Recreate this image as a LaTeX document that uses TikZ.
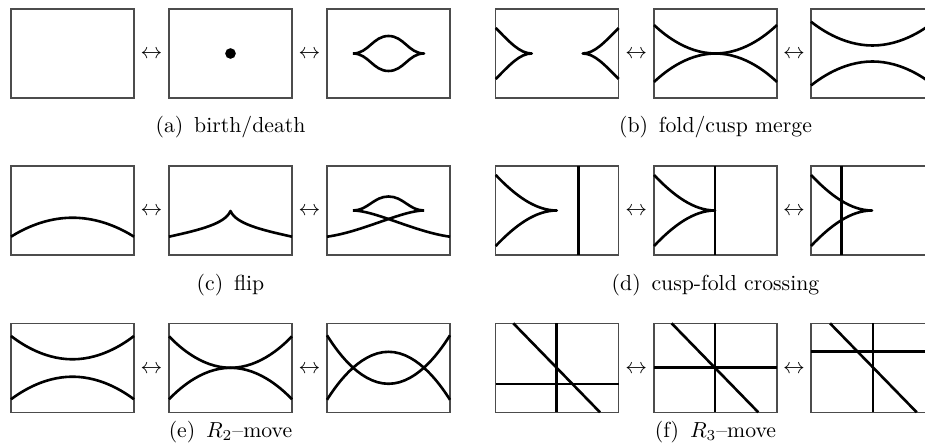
\documentclass[tikz,border=0pt]{standalone}
\usepackage{amsmath}
\usepackage{tikz}
\usetikzlibrary{positioning}

\begin{document}
\begin{tikzpicture}[
  x=0.46pt, y=-0.46pt,
  panel/.style={
    draw=black!70, line width=0.6pt, inner sep=0pt, outer sep=0pt,
    minimum width=56.58pt, minimum height=40.94pt
  },
  crit/.style={line width=1.2pt, line join=round},
  arrowsym/.style={inner sep=0pt, yshift=-0.6pt},
  subcap/.style={inner sep=1pt}
]
\clip (0,0) rectangle (925,448);

% (a) birth/death
\node[panel] (a1) at (72.5,53.5) {};
\node[panel] (a2) at (230.5,53.5) {};
\node[panel] (a3) at (388.5,53.5) {};
\path (a1) -- (a2) node[arrowsym, midway] (a12) {$\leftrightarrow$};
\path (a2) -- (a3) node[arrowsym, midway] (a23) {$\leftrightarrow$};
\fill (a2.center) circle (2.45pt);
\begin{scope}[shift={(a3.north west)}]
  \draw[crit] (26,44.5) to[out=0,in=180] (61.5,27) to[out=0,in=180] (97,44.5)
    to[out=180,in=0] (61.5,62) to[out=180,in=0] (26,44.5);
\end{scope}
\node[subcap, below=7pt of a2] (capa) {(a)\enspace birth/death};

% (b) fold/cusp merge
\node[panel] (b1) at (557.2,53.5) {};
\node[panel] (b2) at (715.5,53.5) {};
\node[panel] (b3) at (872.5,53.5) {};
\path (b1) -- (b2) node[arrowsym, midway] (b12) {$\leftrightarrow$};
\path (b2) -- (b3) node[arrowsym, midway] (b23) {$\leftrightarrow$};
\begin{scope}[shift={(b1.north west)}]
  \draw[crit] (0,19) .. controls (14,33) and (24,44.5) .. (36,44.5)
    .. controls (24,44.5) and (14,56) .. (0,70);
  \draw[crit] (123,19) .. controls (109,33) and (99,44.5) .. (87,44.5)
    .. controls (99,44.5) and (109,56) .. (123,70);
\end{scope}
\begin{scope}[shift={(b2.north west)}]
  \draw[crit] (0,16) parabola bend (61.5,44.5) (123,16);
  \draw[crit] (0,73) parabola bend (61.5,44.5) (123,73);
\end{scope}
\begin{scope}[shift={(b3.north west)}]
  \draw[crit] (0,12.7) parabola bend (61.5,36.5) (123,12.7);
  \draw[crit] (0,76.5) parabola bend (61.5,52.5) (123,76.5);
\end{scope}
\node[subcap, below=7pt of b2] (capb) {(b)\enspace fold/cusp merge};

% (c) flip
\node[panel] (c1) at (72.5,210.5) {};
\node[panel] (c2) at (230.5,210.5) {};
\node[panel] (c3) at (388.5,210.5) {};
\path (c1) -- (c2) node[arrowsym, midway] (c12) {$\leftrightarrow$};
\path (c2) -- (c3) node[arrowsym, midway] (c23) {$\leftrightarrow$};
\begin{scope}[shift={(c1.north west)}]
  \draw[crit] (0,70.7) parabola bend (61.5,51.7) (123,70.7);
\end{scope}
\begin{scope}[shift={(c2.north west)}]
  \draw[crit] (0,70.7) .. controls (30,64) and (56,58) .. (61.5,45)
    .. controls (67,58) and (93,64) .. (123,70.7);
\end{scope}
\begin{scope}[shift={(c3.north west)}]
  \draw[crit] (26,44.5) to[out=0,in=180] (61.5,30.5) to[out=0,in=180] (97,44.5);
  \draw[crit] (0,70.7) .. controls (35,66) and (75,44.5) .. (97,44.5);
  \draw[crit] (123,70.7) .. controls (88,66) and (48,44.5) .. (26,44.5);
\end{scope}
\node[subcap, below=7.8pt of c2] (capc) {(c)\enspace flip};

% (d) cusp-fold crossing
\node[panel] (d1) at (557.2,210.5) {};
\node[panel] (d2) at (715.5,210.5) {};
\node[panel] (d3) at (872.5,210.5) {};
\path (d1) -- (d2) node[arrowsym, midway] (d12) {$\leftrightarrow$};
\path (d2) -- (d3) node[arrowsym, midway] (d23) {$\leftrightarrow$};
\begin{scope}[shift={(d1.north west)}]
  \draw[crit] (0,9) .. controls (20,30) and (40,44.5) .. (61,44.5)
    .. controls (40,44.5) and (20,59) .. (0,80);
  \draw[crit] (82.6,0) -- (82.6,89);
\end{scope}
\begin{scope}[shift={(d2.north west)}]
  \draw[crit] (0,9) .. controls (20,30) and (40,44.5) .. (61,44.5)
    .. controls (40,44.5) and (20,59) .. (0,80);
  \draw[crit] (61,0) -- (61,89);
\end{scope}
\begin{scope}[shift={(d3.north west)}]
  \draw[crit] (0,9) .. controls (20,30) and (40,44.5) .. (61,44.5)
    .. controls (40,44.5) and (20,59) .. (0,80);
  \draw[crit] (30.7,0) -- (30.7,89);
\end{scope}
\node[subcap, below=7.8pt of d2] (capd) {(d)\enspace cusp-fold crossing};

% (e) R2-move
\node[panel] (e1) at (72.5,367.8) {};
\node[panel] (e2) at (230.5,367.8) {};
\node[panel] (e3) at (388.5,367.8) {};
\path (e1) -- (e2) node[arrowsym, midway] (e12) {$\leftrightarrow$};
\path (e2) -- (e3) node[arrowsym, midway] (e23) {$\leftrightarrow$};
\begin{scope}[shift={(e1.north west)}]
  \draw[crit] (0,12.7) parabola bend (61.5,36) (123,12.7);
  \draw[crit] (0,76) parabola bend (61.5,53.4) (123,76);
\end{scope}
\begin{scope}[shift={(e2.north west)}]
  \draw[crit] (0,13) parabola bend (61.5,44.5) (123,13);
  \draw[crit] (0,76) parabola bend (61.5,44.5) (123,76);
\end{scope}
\begin{scope}[shift={(e3.north west)}]
  \draw[crit] (0,12) parabola bend (61.5,60.5) (123,12);
  \draw[crit] (0,76.5) parabola bend (61.5,28.5) (123,76.5);
\end{scope}
\node[subcap, below=2.8pt of e2] (cape) {(e)\enspace $R_2$--move};

% (f) R3-move
\node[panel] (f1) at (557.2,367.8) {};
\node[panel] (f2) at (715.5,367.8) {};
\node[panel] (f3) at (872.5,367.8) {};
\path (f1) -- (f2) node[arrowsym, midway] (f12) {$\leftrightarrow$};
\path (f2) -- (f3) node[arrowsym, midway] (f23) {$\leftrightarrow$};
\begin{scope}[shift={(f1.north west)}]
  \draw[crit] (61,0) -- (61,89);
  \draw[crit] (0,60.7) -- (123,60.7);
  \draw[crit] (17.6,0) -- (104.3,89);
\end{scope}
\begin{scope}[shift={(f2.north west)}]
  \draw[crit] (61,0) -- (61,89);
  \draw[crit] (0,44.5) -- (123,44.5);
  \draw[crit] (17.6,0) -- (104.3,89);
\end{scope}
\begin{scope}[shift={(f3.north west)}]
  \draw[crit] (62,0) -- (62,89);
  \draw[crit] (0,28.4) -- (123,28.4);
  \draw[crit] (19,0) -- (105.7,89);
\end{scope}
\node[subcap, below=2.8pt of f2] (capf) {(f)\enspace $R_3$--move};

\end{tikzpicture}
\end{document}
